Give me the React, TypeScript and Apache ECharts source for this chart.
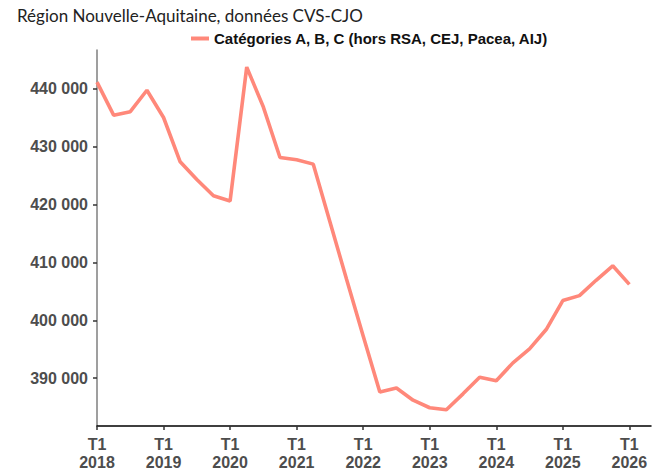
import React, { useEffect, useRef } from "react";
import * as echarts from "echarts";

const startYear = 2018;
const tickQuarters = [0, 4, 8, 12, 16, 20, 24, 28, 32];
const yTicks = [390000, 400000, 410000, 420000, 430000, 440000];
const seriesName = "Catégories A, B, C (hors RSA, CEJ, Pacea, AIJ)";
const values = [
  441100, 435400, 436000, 439700,
  435000, 427350, 424300, 421500,
  420600, 443700, 436800, 428100,
  427700, 426950, 417000, 407100,
  397300, 387600, 388300, 386200,
  384900, 384550, 387300, 390150,
  389550, 392650, 395050, 398400,
  403400, 404250, 406900, 409400,
  406200,
];

const fmt = (v: number) =>
  String(Math.round(v)).replace(/\B(?=(\d{3})+(?!\d))/g, " ");

export default function App() {
  const ref = useRef<HTMLDivElement>(null);
  useEffect(() => {
    if (!ref.current) return;
    const chart = echarts.init(ref.current, null, { renderer: "svg" });
    chart.setOption({
      animation: false,
      backgroundColor: "#ffffff",
      title: {
        text: "Région Nouvelle-Aquitaine, données CVS-CJO",
        left: 12,
        top: 2,
        textStyle: {
          fontFamily: "Lato",
          fontWeight: "normal",
          fontSize: 17,
          color: "#222222",
        },
      },
      legend: {
        left: 186,
        top: 26,
        icon: "rect",
        itemWidth: 18,
        itemHeight: 4,
        itemGap: 8,
        textStyle: {
          fontFamily: "Liberation Sans, Arial",
          fontWeight: "bold",
          fontSize: 15,
          color: "#111111",
        },
        data: [seriesName],
      },
      grid: { left: 97, right: 10, top: 50, bottom: 44, containLabel: false },
      xAxis: {
        type: "value",
        min: 0,
        max: 33.3,
        splitLine: { show: false },
        axisLine: { show: true, lineStyle: { color: "#000000", width: 1.5 } },
        axisTick: {
          show: true,
          length: 4,
          customValues: tickQuarters,
          lineStyle: { color: "#333333", width: 1.5 },
        },
        axisLabel: {
          customValues: tickQuarters,
          formatter: (v: number) => `T1\n${startYear + Math.round(v / 4)}`,
          fontFamily: "Liberation Sans, Arial",
          fontWeight: "bold",
          fontSize: 16,
          lineHeight: 18,
          color: "#4d4d4d",
          margin: 9,
        },
      },
      yAxis: {
        type: "value",
        min: 381750,
        max: 446650,
        splitLine: { show: false },
        axisLine: { show: true, lineStyle: { color: "#7f7f7f", width: 1.5 } },
        axisTick: {
          show: true,
          length: 4,
          customValues: yTicks,
          lineStyle: { color: "#333333", width: 1.5 },
        },
        axisLabel: {
          customValues: yTicks,
          formatter: (v: number) => fmt(v),
          fontFamily: "Liberation Sans, Arial",
          fontWeight: "bold",
          fontSize: 16,
          color: "#4d4d4d",
          margin: 9,
        },
      },
      series: [
        {
          name: seriesName,
          type: "line",
          symbol: "none",
          data: values.map((v, i) => [i, v]),
          lineStyle: { color: "#FF887A", width: 3.6 },
          itemStyle: { color: "#FF887A" },
        },
      ],
    });
    return () => chart.dispose();
  }, []);
  return <div ref={ref} style={{ width: 661, height: 471, position: "absolute", left: 0, top: 0 }} />;
}
